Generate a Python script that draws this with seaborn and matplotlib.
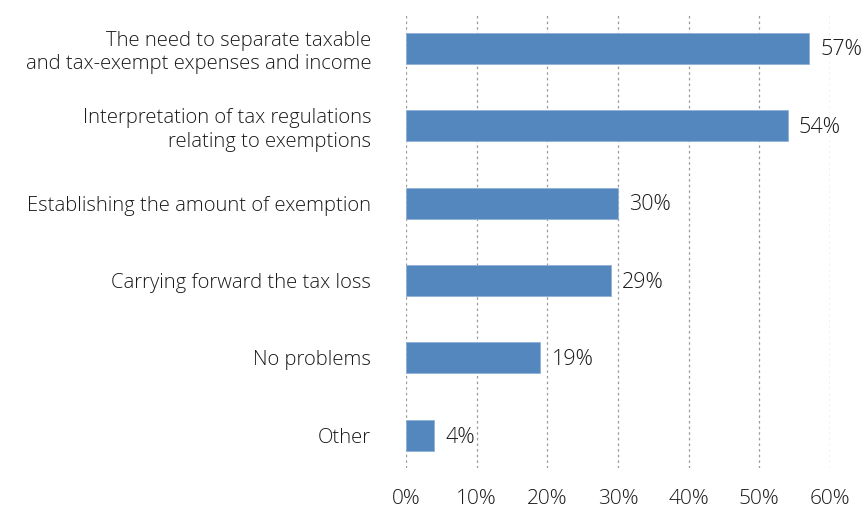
import matplotlib
matplotlib.use("Agg")
import matplotlib.pyplot as plt
import seaborn as sns
import pandas as pd

categories = [
    "The need to separate taxable\nand tax-exempt expenses and income",
    "Interpretation of tax regulations\nrelating to exemptions",
    "Establishing the amount of exemption",
    "Carrying forward the tax loss",
    "No problems",
    "Other",
]
values = [57, 54, 30, 29, 19, 4]
x_ticks = [0, 10, 20, 30, 40, 50, 60]
x_tick_labels = [f"{t}%" for t in x_ticks]

sns.set_theme(style="white")
plt.rcParams["font.family"] = ["Open Sans", "DejaVu Sans"]

df = pd.DataFrame({"category": categories, "value": values})

fig = plt.figure(figsize=(8.67, 5.11), dpi=100)
ax = fig.add_axes([406 / 867, 1 - 468 / 511, (830 - 406) / 867, (468 - 14) / 511])

sns.barplot(data=df, x="value", y="category", color="#5387be", saturation=1,
            width=0.4, edgecolor="#8fb2d8", linewidth=0.6, ax=ax, zorder=3)

text_color = "#1a1a1a"

ax.set_xlim(0, 60)
ax.set_ylim(5.42, -0.44)
ax.set_xticks(x_ticks)
ax.set_xticklabels(x_tick_labels, fontsize=15, color=text_color, fontweight="light")
ax.set_xlabel("")
ax.set_ylabel("")
ax.tick_params(axis="x", length=0, pad=15)
ax.tick_params(axis="y", length=0, pad=25)
for lbl in ax.get_yticklabels():
    lbl.set_fontsize(14.6)
    lbl.set_fontweight("light")
    lbl.set_color(text_color)
    lbl.set_horizontalalignment("right")
    lbl.set_linespacing(1.25)

for t in x_ticks:
    ax.axvline(t, color="#9a9a9a", linestyle=(0, (2, 2.5)), linewidth=0.9, zorder=1)

for spine in ax.spines.values():
    spine.set_visible(False)

for i, v in enumerate(values):
    ax.text(v + 1.6, i + 0.02, f"{v}%", va="center", ha="left",
            fontsize=15.5, fontweight="light", color=text_color)

fig.savefig("out.png", dpi=100)
